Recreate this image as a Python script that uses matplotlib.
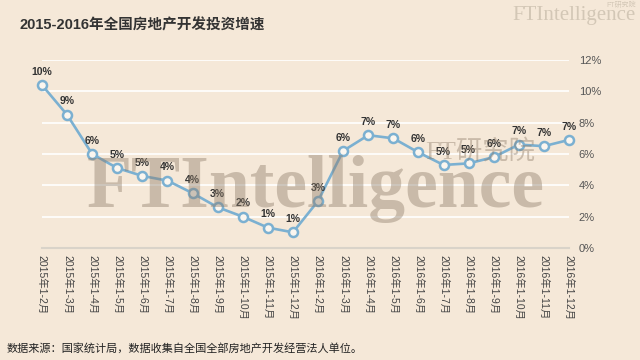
import numpy as np
import matplotlib
matplotlib.use("Agg")
import matplotlib.pyplot as plt
from matplotlib.ticker import FuncFormatter

plt.rcParams['font.family'] = ['Liberation Sans', 'Noto Sans CJK SC', 'DejaVu Sans']

# data
months = ["2015年1-2月", "2015年1-3月", "2015年1-4月", "2015年1-5月", "2015年1-6月",
          "2015年1-7月", "2015年1-8月", "2015年1-9月", "2015年1-10月", "2015年1-11月",
          "2015年1-12月", "2016年1-2月", "2016年1-3月", "2016年1-4月", "2016年1-5月",
          "2016年1-6月", "2016年1-7月", "2016年1-8月", "2016年1-9月", "2016年1-10月",
          "2016年1-11月", "2016年1-12月"]
growth = [10.4, 8.5, 6.0, 5.1, 4.6, 4.3, 3.5, 2.6, 2.0, 1.3, 1.0,
          3.0, 6.2, 7.2, 7.0, 6.1, 5.3, 5.4, 5.8, 6.6, 6.5, 6.9]
yticks = [0, 2, 4, 6, 8, 10, 12]

bg = '#F5E8D8'
blue = '#7BB0D1'

fig = plt.figure(figsize=(6.4, 3.6), dpi=100, facecolor=bg)
ax = fig.add_axes([42 / 640, 1 - 248 / 360, (569 - 42) / 640, (248 - 60) / 360])
ax.set_facecolor(bg)

x = np.arange(len(months))
ax.plot(x, growth, color=blue, lw=1.9, marker='o', ms=6.5, mew=1.8,
        mfc='#FBF6EF', mec=blue, zorder=3, clip_on=False)

for xi, v in zip(x, growth):
    ax.annotate("%d%%" % int(round(v + 1e-9)), (xi, v), xytext=(0, 6),
                textcoords='offset points', ha='center', va='bottom',
                fontsize=7.5, fontweight='bold', color='#333333', zorder=4)

ax.set_xlim(0, len(months) - 1)
ax.set_ylim(0, 12)
ax.set_yticks(yticks)
ax.yaxis.set_major_formatter(FuncFormatter(lambda v, p: "%d%%" % v))
ax.yaxis.tick_right()
ax.tick_params(axis='y', length=0, pad=7, labelsize=8, labelcolor='#555555')
ax.set_xticks(x)
ax.set_xticklabels(months, rotation=270, fontsize=7.5, color='#444444')
ax.tick_params(axis='x', length=0, pad=5)

ax.grid(axis='y', color='white', lw=1.2, zorder=0)
for s in ['top', 'left', 'right']:
    ax.spines[s].set_visible(False)
ax.spines['bottom'].set_color('#D9D3C9')
ax.spines['bottom'].set_linewidth(1.5)

# title and source
fig.text(20 / 640, 1 - 25 / 360, "2015-2016年全国房地产开发投资增速", fontsize=10.5,
         fontweight='bold', color='#333333', va='center', ha='left')
fig.text(7 / 640, 1 - 348 / 360,
         "数据来源：国家统计局，数据收集自全国全部房地产开发经营法人单位。",
         fontsize=8, color='#222222', va='center', ha='left')

# watermark
fig.text(87 / 640, 1 - 207 / 360, "FTIntelligence", family='Liberation Serif',
         fontweight='bold', fontsize=53, color='#8C7B68', alpha=0.42,
         ha='left', va='baseline', zorder=10)
fig.text(425 / 640, 1 - 151 / 360, "FT研究院", family=['Liberation Serif', 'Noto Sans CJK SC'],
         fontsize=19, color='#8C7B68', alpha=0.42, ha='left', va='center', zorder=10)

# logo top right
fig.text(636 / 640, 1 - 20 / 360, "FTIntelligence", family='Liberation Serif',
         fontsize=15, color='#D3C7B6', ha='right', va='baseline')
fig.text(636 / 640, 1 - 5 / 360, "FT研究院", fontsize=5,
         color='#D3C7B6', ha='right', va='center')

fig.savefig("out.png", dpi=100, facecolor=bg)
